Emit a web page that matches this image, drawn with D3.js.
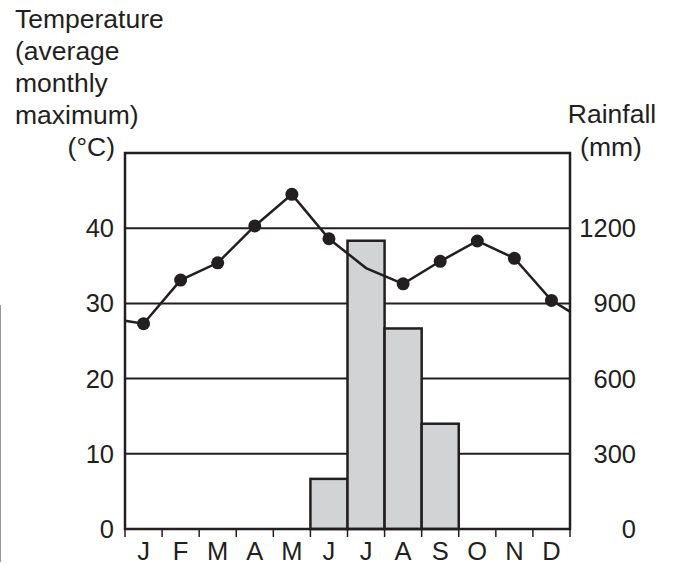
<!DOCTYPE html>
<html>
<head>
<meta charset="utf-8">
<script src="https://cdn.jsdelivr.net/npm/d3@7"></script>
<style>
  body { margin: 0; background: #fff; }
  text { font-family: "Liberation Sans", Arial, Helvetica, sans-serif; fill: #231f20; }
</style>
</head>
<body>
<script>
// data
var months = ["J", "F", "M", "A", "M", "J", "J", "A", "S", "O", "N", "D"]
var temps = [27.3, 33.1, 35.4, 40.3, 44.5, 38.6, 34.7, 32.6, 35.6, 38.3, 36.0, 30.4]
var tempMarked = [1, 1, 1, 1, 1, 1, 0, 1, 1, 1, 1, 1]   // july has no dot in the original
var tempStart = 27.7   // where the line enters the frame
var tempEnd = 28.9     // where it leaves it
var rain = [0, 0, 0, 0, 0, 200, 1150, 800, 420, 0, 0, 0]
var tempTicks = [0, 10, 20, 30, 40]
var rainTicks = [0, 300, 600, 900, 1200]
var leftTitle = ["Temperature", "(average", "monthly", "maximum)"]

var width = 674, height = 564
var ink = "#231f20"

var svg = d3.select("body").append("svg")
	.attr("width", width)
	.attr("height", height)

var x = d3.scaleBand()
	.domain(d3.range(months.length))
	.range([125, 570])
	.padding(0)

var yT = d3.scaleLinear().domain([0, 50]).range([529, 153])
var yR = d3.scaleLinear().domain([0, 1500]).range([529, 153])

// grid lines
svg.append("g").selectAll("line")
	.data(tempTicks.filter(function(d) { return d > 0 }))
	.enter().append("line")
	.attr("x1", x.range()[0])
	.attr("x2", x.range()[1])
	.attr("y1", function(d) { return yT(d) })
	.attr("y2", function(d) { return yT(d) })
	.style("stroke", ink)
	.style("stroke-width", 2)

// rainfall bars
svg.append("g").selectAll("rect")
	.data(rain.map(function(v, i) { return {i: i, v: v} }).filter(function(d) { return d.v > 0 }))
	.enter().append("rect")
	.attr("x", function(d) { return x(d.i) })
	.attr("width", x.bandwidth())
	.attr("y", function(d) { return yR(d.v) })
	.attr("height", function(d) { return yR(0) - yR(d.v) })
	.style("fill", "#d1d3d4")
	.style("stroke", ink)
	.style("stroke-width", 2.5)

// frame
svg.append("rect")
	.attr("x", x.range()[0])
	.attr("y", yT.range()[1])
	.attr("width", x.range()[1] - x.range()[0])
	.attr("height", yT.range()[0] - yT.range()[1])
	.style("fill", "none")
	.style("stroke", ink)
	.style("stroke-width", 2.5)

// bottom axis: ticks at band edges, month labels centred
var xAxis = svg.append("g").attr("transform", "translate(0," + yT(0) + ")")
xAxis.selectAll("line")
	.data(d3.range(months.length + 1))
	.enter().append("line")
	.attr("x1", function(d) { return x.range()[0] + d * x.bandwidth() })
	.attr("x2", function(d) { return x.range()[0] + d * x.bandwidth() })
	.attr("y1", 0)
	.attr("y2", 8)
	.style("stroke", ink)
	.style("stroke-width", 1.5)
xAxis.selectAll("text")
	.data(months)
	.enter().append("text")
	.attr("x", function(d, i) { return x(i) + x.bandwidth() / 2 })
	.attr("y", 31)
	.attr("text-anchor", "middle")
	.style("font-size", "25.5px")
	.text(function(d) { return d })

// left and right tick labels
svg.append("g").selectAll("text")
	.data(tempTicks)
	.enter().append("text")
	.attr("x", 114)
	.attr("y", function(d) { return yT(d) + 9 })
	.attr("text-anchor", "end")
	.style("font-size", "25.5px")
	.text(function(d) { return d })

svg.append("g").selectAll("text")
	.data(rainTicks)
	.enter().append("text")
	.attr("x", 636)
	.attr("y", function(d) { return yR(d) + 9 })
	.attr("text-anchor", "end")
	.style("font-size", "25.5px")
	.text(function(d) { return d })

// temperature line
var pts = [[x.range()[0], yT(tempStart)]]
temps.forEach(function(t, i) { pts.push([x(i) + x.bandwidth() / 2, yT(t)]) })
pts.push([x.range()[1], yT(tempEnd)])

svg.append("path")
	.datum(pts)
	.attr("d", d3.line())
	.style("fill", "none")
	.style("stroke", ink)
	.style("stroke-width", 2.5)

svg.append("g").selectAll("circle")
	.data(temps.map(function(t, i) { return {i: i, t: t} }).filter(function(d) { return tempMarked[d.i] }))
	.enter().append("circle")
	.attr("cx", function(d) { return x(d.i) + x.bandwidth() / 2 })
	.attr("cy", function(d) { return yT(d.t) })
	.attr("r", 6.5)
	.style("fill", ink)

// axis titles
svg.append("g").selectAll("text")
	.data(leftTitle)
	.enter().append("text")
	.attr("x", 15)
	.attr("y", function(d, i) { return 28 + i * 32 })
	.style("font-size", "26.5px")
	.text(function(d) { return d })

svg.append("text")
	.attr("x", 115).attr("y", 156)
	.attr("text-anchor", "end")
	.style("font-size", "26.5px")
	.text("(°C)")

svg.append("text")
	.attr("x", 612).attr("y", 123)
	.attr("text-anchor", "middle")
	.style("font-size", "26.5px")
	.text("Rainfall")

svg.append("text")
	.attr("x", 611).attr("y", 156)
	.attr("text-anchor", "middle")
	.style("font-size", "26.5px")
	.text("(mm)")

// faint scan edge on the far left of the original
svg.append("line")
	.attr("x1", 0.5).attr("x2", 0.5)
	.attr("y1", 305).attr("y2", 562)
	.style("stroke", "#999")
	.style("stroke-width", 1)
</script>
</body>
</html>
